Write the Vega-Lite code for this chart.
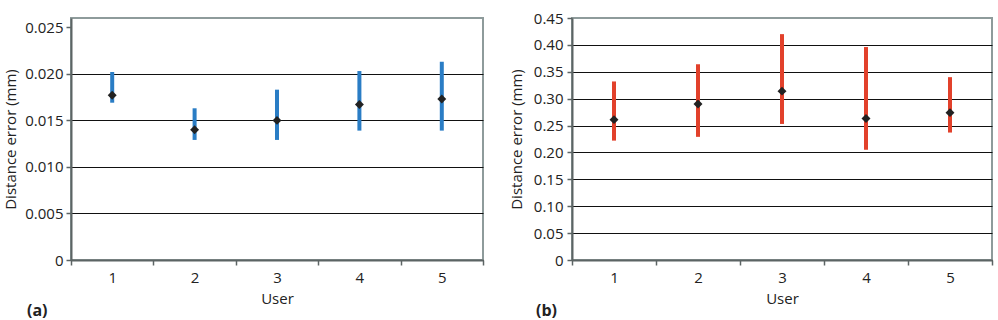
{
  "$schema": "https://vega.github.io/schema/vega-lite/v6.json",
  "background": "white",
  "padding": {"left": 2, "top": 10, "right": 0, "bottom": 0},
  "bounds": "flush",
  "spacing": 89,
  "datasets": {
    "panelA": [
      {"user": 1, "lo": 0.0169, "hi": 0.0202, "mean": 0.0177},
      {"user": 2, "lo": 0.0129, "hi": 0.0163, "mean": 0.0140},
      {"user": 3, "lo": 0.0129, "hi": 0.0183, "mean": 0.0150},
      {"user": 4, "lo": 0.0139, "hi": 0.0203, "mean": 0.0167},
      {"user": 5, "lo": 0.0139, "hi": 0.0213, "mean": 0.0173}
    ],
    "panelB": [
      {"user": 1, "lo": 0.222, "hi": 0.332, "mean": 0.261},
      {"user": 2, "lo": 0.229, "hi": 0.364, "mean": 0.290},
      {"user": 3, "lo": 0.253, "hi": 0.420, "mean": 0.314},
      {"user": 4, "lo": 0.205, "hi": 0.396, "mean": 0.263},
      {"user": 5, "lo": 0.237, "hi": 0.340, "mean": 0.274}
    ]
  },
  "config": {
    "font": "Open Sans",
    "view": {"stroke": "#8e9b9b", "strokeWidth": 2},
    "axis": {
      "labelFont": "Open Sans",
      "labelFontSize": 15,
      "labelColor": "#222",
      "labelOverlap": false,
      "titleFont": "Open Sans",
      "titleFontSize": 15,
      "titleFontWeight": "normal",
      "titleColor": "#222",
      "domainColor": "#5c6464",
      "domainWidth": 2,
      "tickColor": "#5c6464",
      "tickWidth": 1.5,
      "tickSize": 5
    },
    "title": {"font": "Open Sans", "fontSize": 16, "fontWeight": "bold", "color": "#222", "frame": "group"}
  },
  "hconcat": [
    {
      "width": 412,
      "height": 242,
      "data": {"name": "panelA"},
      "title": {"text": "(a)", "orient": "bottom", "anchor": "start", "dx": -44, "dy": -3, "offset": 0},
      "encoding": {
        "x": {
          "field": "user",
          "type": "ordinal",
          "title": "User",
          "scale": {"type": "band", "paddingInner": 0, "paddingOuter": 0},
          "axis": {"labelAngle": 0, "tickBand": "extent", "grid": false, "labelPadding": 5, "titlePadding": 6}
        }
      },
      "layer": [
        {
          "mark": {"type": "rule", "strokeWidth": 4, "color": "#2a7dc5"},
          "encoding": {
            "y": {
              "field": "lo",
              "type": "quantitative",
              "scale": {"domain": [0, 0.025]},
              "title": "Distance error (mm)",
              "axis": {
                "values": [0, 0.005, 0.01, 0.015, 0.02, 0.025],
                "labelExpr": "datum.value == 0 ? '0' : format(datum.value, '.3f')",
                "grid": true,
                "gridColor": {"condition": {"test": "datum.value >= 0.0249", "value": "transparent"}, "value": "#111"},
                "gridWidth": 1,
                "labelPadding": 3,
                "titlePadding": 6
              }
            },
            "y2": {"field": "hi"}
          }
        },
        {
          "mark": {"type": "point", "shape": "diamond", "filled": true, "size": 80, "color": "#222", "opacity": 1},
          "encoding": {
            "y": {
              "field": "mean",
              "type": "quantitative",
              "title": "Distance error (mm)",
              "axis": {
                "values": [0, 0.005, 0.01, 0.015, 0.02, 0.025],
                "labelExpr": "datum.value == 0 ? '0' : format(datum.value, '.3f')",
                "grid": true,
                "gridColor": {"condition": {"test": "datum.value >= 0.0249", "value": "transparent"}, "value": "#111"},
                "gridWidth": 1,
                "labelPadding": 3,
                "titlePadding": 6
              }
            }
          }
        }
      ]
    },
    {
      "width": 420,
      "height": 242,
      "data": {"name": "panelB"},
      "title": {"text": "(b)", "orient": "bottom", "anchor": "start", "dx": -36, "dy": -3, "offset": 0},
      "encoding": {
        "x": {
          "field": "user",
          "type": "ordinal",
          "title": "User",
          "scale": {"type": "band", "paddingInner": 0, "paddingOuter": 0},
          "axis": {"labelAngle": 0, "tickBand": "extent", "grid": false, "labelPadding": 5, "titlePadding": 6}
        }
      },
      "layer": [
        {
          "mark": {"type": "rule", "strokeWidth": 4, "color": "#e2412b"},
          "encoding": {
            "y": {
              "field": "lo",
              "type": "quantitative",
              "scale": {"domain": [0, 0.45]},
              "title": "Distance error (mm)",
              "axis": {
                "values": [0, 0.05, 0.1, 0.15, 0.2, 0.25, 0.3, 0.35, 0.4, 0.45],
                "labelExpr": "datum.value == 0 ? '0' : format(datum.value, '.2f')",
                "grid": true,
                "gridColor": {"condition": {"test": "datum.value >= 0.449", "value": "transparent"}, "value": "#111"},
                "gridWidth": 1,
                "labelPadding": 4,
                "titlePadding": 9
              }
            },
            "y2": {"field": "hi"}
          }
        },
        {
          "mark": {"type": "point", "shape": "diamond", "filled": true, "size": 80, "color": "#222", "opacity": 1},
          "encoding": {
            "y": {
              "field": "mean",
              "type": "quantitative",
              "title": "Distance error (mm)",
              "axis": {
                "values": [0, 0.05, 0.1, 0.15, 0.2, 0.25, 0.3, 0.35, 0.4, 0.45],
                "labelExpr": "datum.value == 0 ? '0' : format(datum.value, '.2f')",
                "grid": true,
                "gridColor": {"condition": {"test": "datum.value >= 0.449", "value": "transparent"}, "value": "#111"},
                "gridWidth": 1,
                "labelPadding": 4,
                "titlePadding": 9
              }
            }
          }
        }
      ]
    }
  ]
}
